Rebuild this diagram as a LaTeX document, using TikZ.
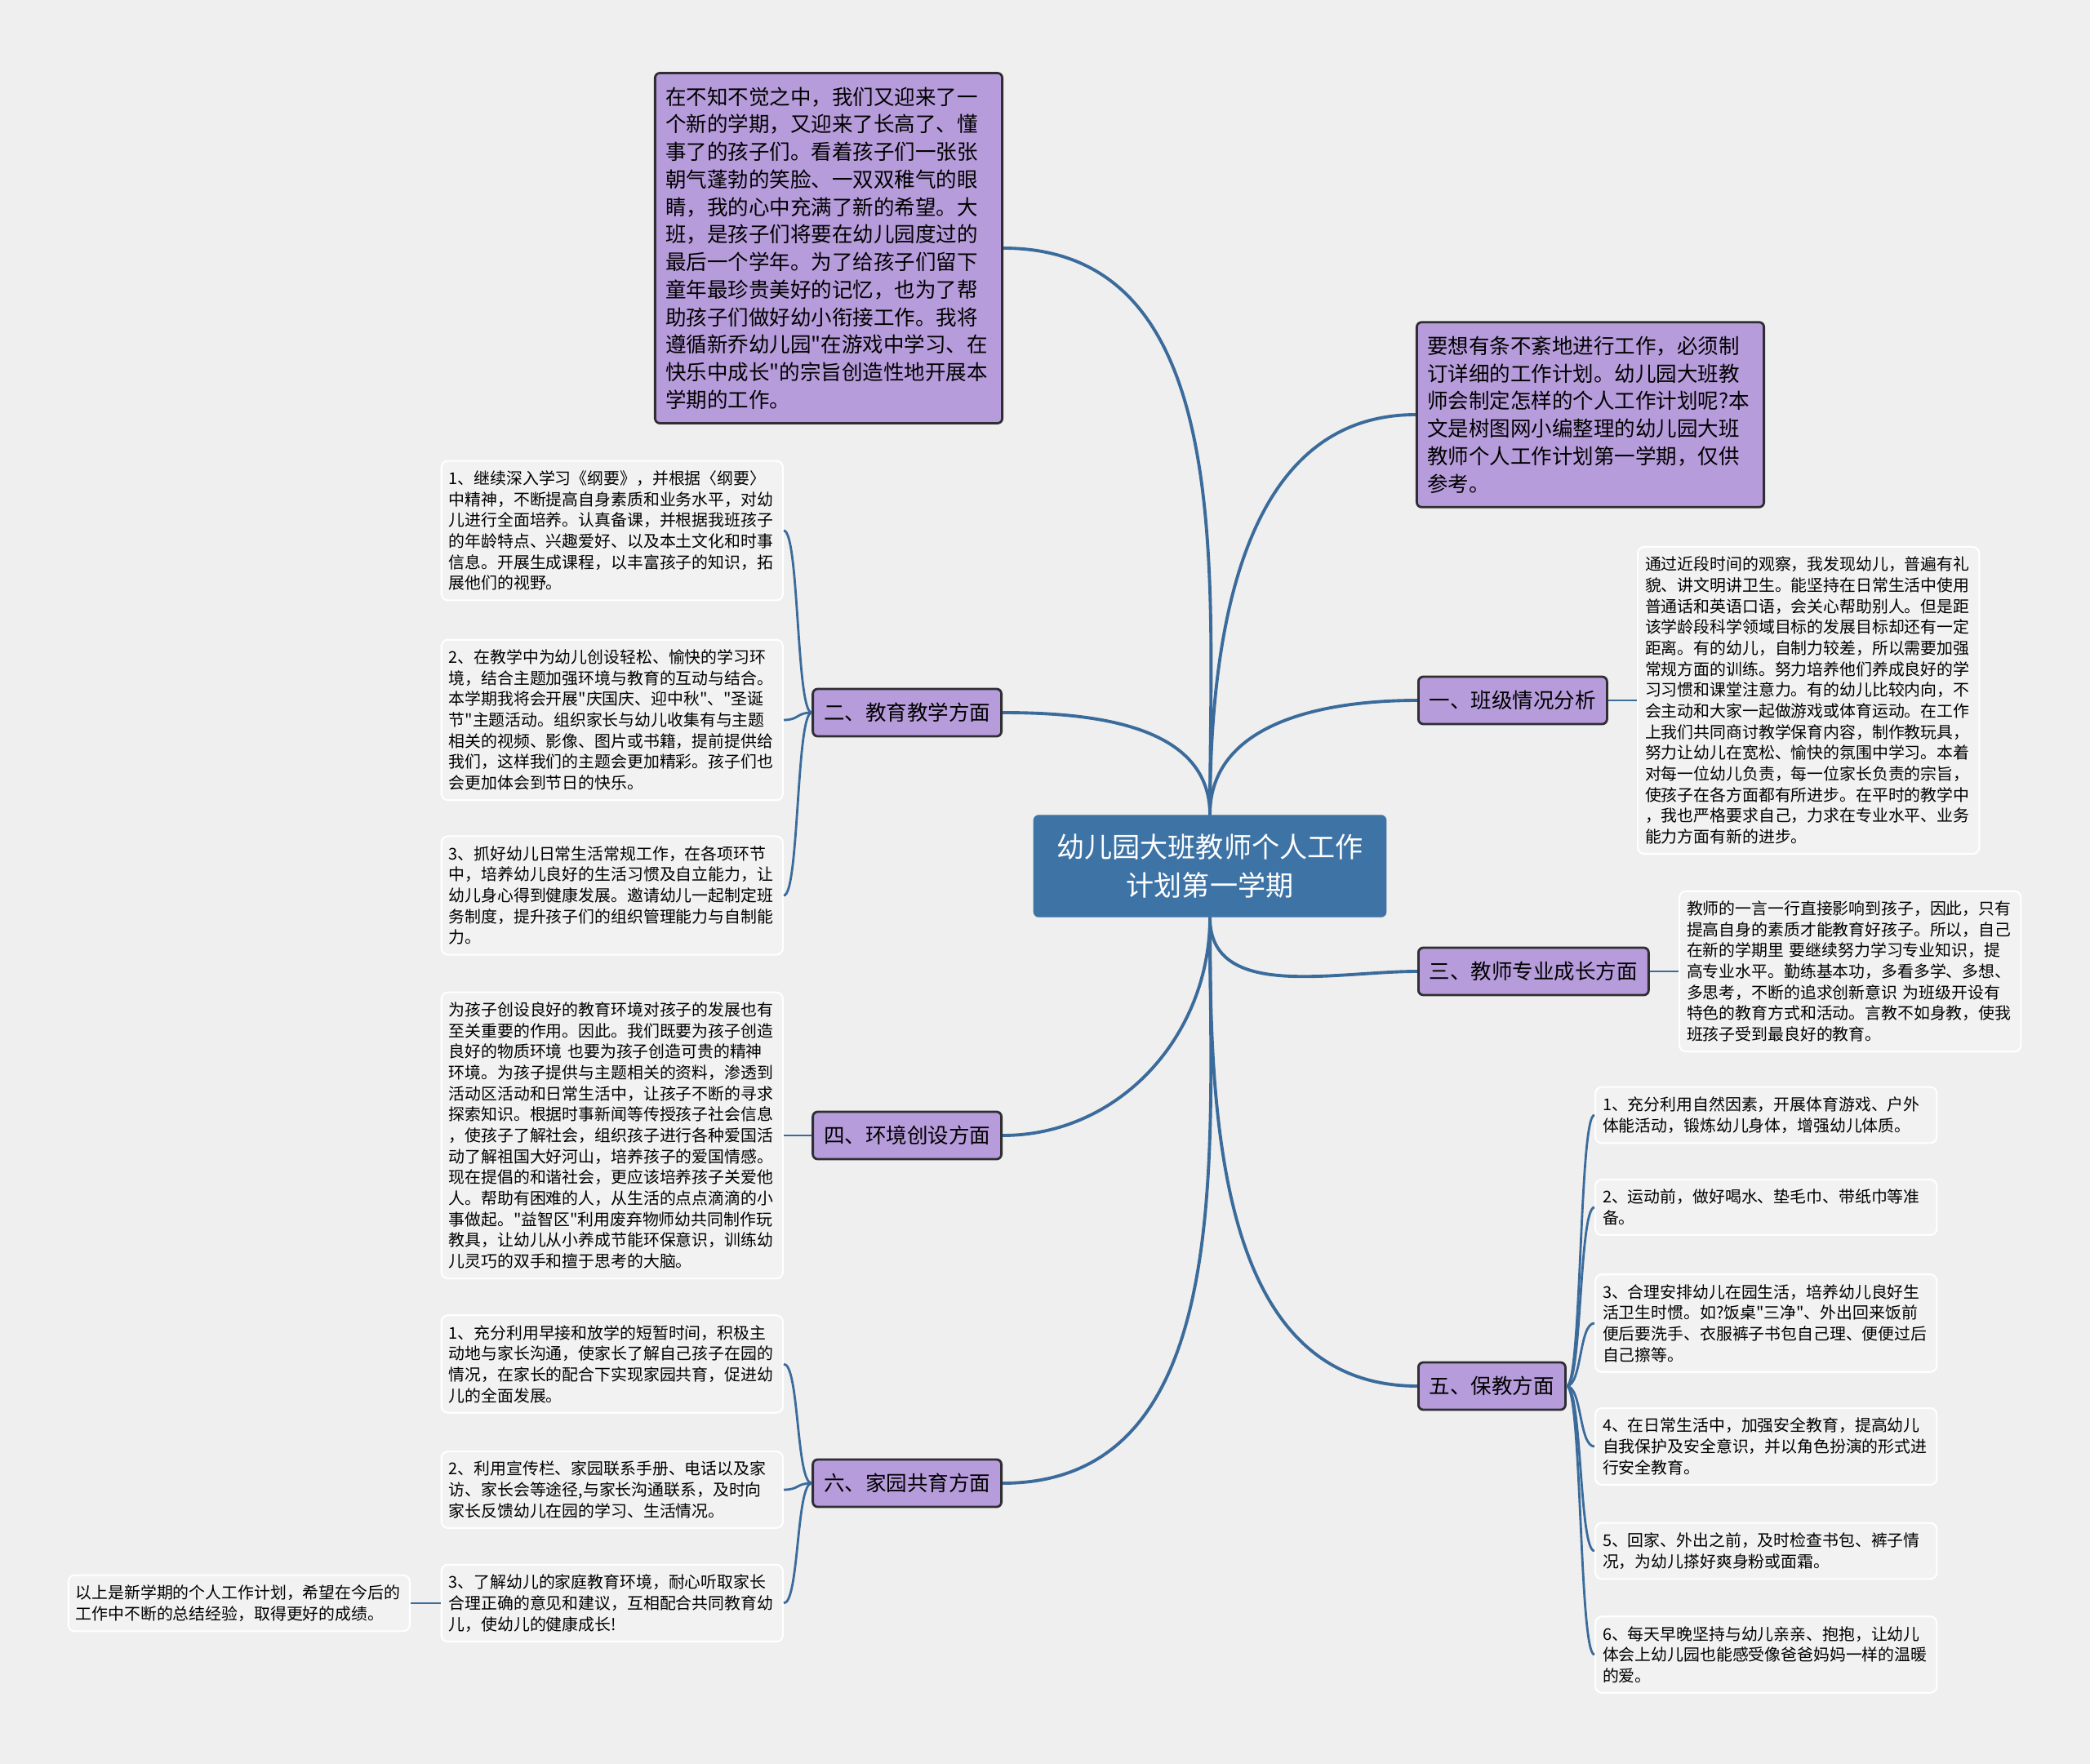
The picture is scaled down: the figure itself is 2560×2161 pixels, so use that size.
\documentclass[tikz,border=0pt]{standalone}
\usepackage{fontspec}
\setmainfont{Noto Sans CJK SC}[Ligatures=TeXOff]
\usepackage{xcolor}
\usepackage{tikz}

\definecolor{bgcol}{HTML}{EFEFEF}
\definecolor{lilac}{HTML}{B79CDB}
\definecolor{edgedark}{HTML}{2E2E33}
\definecolor{rootblue}{HTML}{3E73A6}
\definecolor{linkblue}{HTML}{3B6B9B}
\definecolor{leafgray}{HTML}{F2F2F2}

\newcommand{\rootfont}{\fontsize{9.7pt}{13.5pt}\selectfont}
\newcommand{\notefont}{\fontsize{7.25pt}{9.6pt}\selectfont}
\newcommand{\leaffont}{\fontsize{5.65pt}{7.3pt}\selectfont}

\begin{document}
\begin{tikzpicture}[x=0.01cm,y=-0.01cm]
  \tikzstyle{root} = [rectangle, draw=rootblue, fill=rootblue, text=white, rounded corners=0.06cm, align=center, minimum width=4.31cm, minimum height=1.24cm, font=\rootfont]
  \tikzstyle{note} = [rectangle, draw=edgedark, line width=0.8pt, fill=lilac, rounded corners=0.06cm, text width=3.99cm, inner xsep=0.13cm, inner ysep=0.17cm, align=left, font=\notefont]
  \tikzstyle{branch} = [rectangle, draw=edgedark, line width=0.8pt, fill=lilac, rounded corners=0.06cm, inner xsep=0.135cm, minimum height=0.58cm, font=\notefont]
  \tikzstyle{leaf} = [rectangle, draw=white, line width=0.6pt, fill=leafgray, rounded corners=0.08cm, text width=4.0cm, inner xsep=0.09cm, inner ysep=0.12cm, align=left, font=\leaffont]
  \tikzstyle{link} = [draw=linkblue, line width=1.1pt]
  \tikzstyle{twig} = [draw=linkblue, line width=0.8pt]
  \tikzstyle{toleft} = [to path={.. controls +(-19,0) and +(19,0) .. (\tikztotarget)}]
  \tikzstyle{toright} = [to path={.. controls +(19,0) and +(-19,0) .. (\tikztotarget)}]

  \fill[bgcol] (0,0) rectangle (2560,2161);
  \useasboundingbox (0,0) rectangle (2560,2161);

  % Centre and intro notes
  \node[root] (root) at (1482,1061) {幼儿园大班教师个人工作\\计划第一学期};
  \node[note] (intro) at (1015,304) {在不知不觉之中，我们又迎来了一\\个新的学期，又迎来了长高了、懂\\事了的孩子们。看着孩子们一张张\\朝气蓬勃的笑脸、一双双稚气的眼\\睛，我的心中充满了新的希望。大\\班，是孩子们将要在幼儿园度过的\\最后一个学年。为了给孩子们留下\\童年最珍贵美好的记忆，也为了帮\\助孩子们做好幼小衔接工作。我将\\遵循新乔幼儿园"在游戏中学习、在\\快乐中成长"的宗旨创造性地开展本\\学期的工作。};
  \node[note] (guide) at (1948,508) {要想有条不紊地进行工作，必须制\\订详细的工作计划。幼儿园大班教\\师会制定怎样的个人工作计划呢?本\\文是树图网小编整理的幼儿园大班\\教师个人工作计划第一学期，仅供\\参考。};

  % Branches
  \node[branch, anchor=west] (b1) at (1736,858) {一、班级情况分析};
  \node[branch, anchor=east] (b2) at (1228,873) {二、教育教学方面};
  \node[branch, anchor=west] (b3) at (1736,1190) {三、教师专业成长方面};
  \node[branch, anchor=east] (b4) at (1228,1391) {四、环境创设方面};
  \node[branch, anchor=west] (b5) at (1736,1698) {五、保教方面};
  \node[branch, anchor=east] (b6) at (1228,1817) {六、家园共育方面};

  % Right leaves
  \node[leaf, anchor=west] (c1) at (2005,858) {通过近段时间的观察，我发现幼儿，普遍有礼\\貌、讲文明讲卫生。能坚持在日常生活中使用\\普通话和英语口语，会关心帮助别人。但是距\\该学龄段科学领域目标的发展目标却还有一定\\距离。有的幼儿，自制力较差，所以需要加强\\常规方面的训练。努力培养他们养成良好的学\\习习惯和课堂注意力。有的幼儿比较内向，不\\会主动和大家一起做游戏或体育运动。在工作\\上我们共同商讨教学保育内容，制作教玩具，\\努力让幼儿在宽松、愉快的氛围中学习。本着\\对每一位幼儿负责，每一位家长负责的宗旨，\\使孩子在各方面都有所进步。在平时的教学中\\，我也严格要求自己，力求在专业水平、业务\\能力方面有新的进步。};
  \node[leaf, anchor=west] (t1) at (2056,1190) {教师的一言一行直接影响到孩子，因此，只有\\提高自身的素质才能教育好孩子。所以，自己\\在新的学期里 要继续努力学习专业知识，提\\高专业水平。勤练基本功，多看多学、多想、\\多思考，不断的追求创新意识 为班级开设有\\特色的教育方式和活动。言教不如身教，使我\\班孩子受到最良好的教育。};
  \node[leaf, anchor=west] (p1) at (1953,1366) {1、充分利用自然因素，开展体育游戏、户外\\体能活动，锻炼幼儿身体，增强幼儿体质。};
  \node[leaf, anchor=west] (p2) at (1953,1479) {2、运动前，做好喝水、垫毛巾、带纸巾等准\\备。};
  \node[leaf, anchor=west] (p3) at (1953,1621) {3、合理安排幼儿在园生活，培养幼儿良好生\\活卫生时惯。如?饭桌"三净"、外出回来饭前\\便后要洗手、衣服裤子书包自己理、便便过后\\自己擦等。};
  \node[leaf, anchor=west] (p4) at (1953,1772) {4、在日常生活中，加强安全教育，提高幼儿\\自我保护及安全意识，并以角色扮演的形式进\\行安全教育。};
  \node[leaf, anchor=west] (p5) at (1953,1900) {5、回家、外出之前，及时检查书包、裤子情\\况，为幼儿搽好爽身粉或面霜。};
  \node[leaf, anchor=west] (p6) at (1953,2027) {6、每天早晚坚持与幼儿亲亲、抱抱，让幼儿\\体会上幼儿园也能感受像爸爸妈妈一样的温暖\\的爱。};

  % Left leaves
  \node[leaf, anchor=east] (e1) at (960,650) {1、继续深入学习《纲要》，并根据〈纲要〉\\中精神，不断提高自身素质和业务水平，对幼\\儿进行全面培养。认真备课，并根据我班孩子\\的年龄特点、兴趣爱好、以及本土文化和时事\\信息。开展生成课程，以丰富孩子的知识，拓\\展他们的视野。};
  \node[leaf, anchor=east] (e2) at (960,882) {2、在教学中为幼儿创设轻松、愉快的学习环\\境，结合主题加强环境与教育的互动与结合。\\本学期我将会开展"庆国庆、迎中秋"、"圣诞\\节"主题活动。组织家长与幼儿收集有与主题\\相关的视频、影像、图片或书籍，提前提供给\\我们，这样我们的主题会更加精彩。孩子们也\\会更加体会到节日的快乐。};
  \node[leaf, anchor=east] (e3) at (960,1097) {3、抓好幼儿日常生活常规工作，在各项环节\\中，培养幼儿良好的生活习惯及自立能力，让\\幼儿身心得到健康发展。邀请幼儿一起制定班\\务制度，提升孩子们的组织管理能力与自制能\\力。};
  \node[leaf, anchor=east] (h1) at (960,1391) {为孩子创设良好的教育环境对孩子的发展也有\\至关重要的作用。因此。我们既要为孩子创造\\良好的物质环境 也要为孩子创造可贵的精神\\环境。为孩子提供与主题相关的资料，渗透到\\活动区活动和日常生活中，让孩子不断的寻求\\探索知识。根据时事新闻等传授孩子社会信息\\，使孩子了解社会，组织孩子进行各种爱国活\\动了解祖国大好河山，培养孩子的爱国情感。\\现在提倡的和谐社会，更应该培养孩子关爱他\\人。帮助有困难的人，从生活的点点滴滴的小\\事做起。"益智区"利用废弃物师幼共同制作玩\\教具，让幼儿从小养成节能环保意识，训练幼\\儿灵巧的双手和擅于思考的大脑。};
  \node[leaf, anchor=east] (f1) at (960,1671) {1、充分利用早接和放学的短暂时间，积极主\\动地与家长沟通，使家长了解自己孩子在园的\\情况，在家长的配合下实现家园共育，促进幼\\儿的全面发展。};
  \node[leaf, anchor=east] (f2) at (960,1825) {2、利用宣传栏、家园联系手册、电话以及家\\访、家长会等途径,与家长沟通联系，及时向\\家长反馈幼儿在园的学习、生活情况。};
  \node[leaf, anchor=east] (f3) at (960,1964) {3、了解幼儿的家庭教育环境，耐心听取家长\\合理正确的意见和建议，互相配合共同教育幼\\儿，使幼儿的健康成长!};
  \node[leaf, anchor=east] (fin) at (503,1964) {以上是新学期的个人工作计划，希望在今后的\\工作中不断的总结经验，取得更好的成绩。};

  % Main links
  \draw[link] (root.north) to[out=90,in=0] (intro.east);
  \draw[link] (root.north) to[out=90,in=180] (guide.west);
  \draw[link] (root.north) to[out=90,in=180] (b1.west);
  \draw[link] (root.north) to[out=90,in=0] (b2.east);
  \draw[link] (root.south) to[out=-90,in=180] (b3.west);
  \draw[link] (root.south) to[out=-90,in=0] (b4.east);
  \draw[link] (root.south) to[out=-90,in=180] (b5.west);
  \draw[link] (root.south) to[out=-90,in=0] (b6.east);

  % Twigs
  \draw[twig] (b1.east) -- (c1.west);
  \draw[twig] (b3.east) -- (t1.west);
  \draw[twig] (b4.west) -- (h1.east);
  \draw[twig] (f3.west) -- (fin.east);
  \draw[twig] (b2.west) to[toleft] (e1.east);
  \draw[twig] (b2.west) to[toleft] (e2.east);
  \draw[twig] (b2.west) to[toleft] (e3.east);
  \draw[twig] (b6.west) to[toleft] (f1.east);
  \draw[twig] (b6.west) to[toleft] (f2.east);
  \draw[twig] (b6.west) to[toleft] (f3.east);
  \draw[twig] (b5.east) to[toright] (p1.west);
  \draw[twig] (b5.east) to[toright] (p2.west);
  \draw[twig] (b5.east) to[toright] (p3.west);
  \draw[twig] (b5.east) to[toright] (p4.west);
  \draw[twig] (b5.east) to[toright] (p5.west);
  \draw[twig] (b5.east) to[toright] (p6.west);
\end{tikzpicture}
\end{document}
